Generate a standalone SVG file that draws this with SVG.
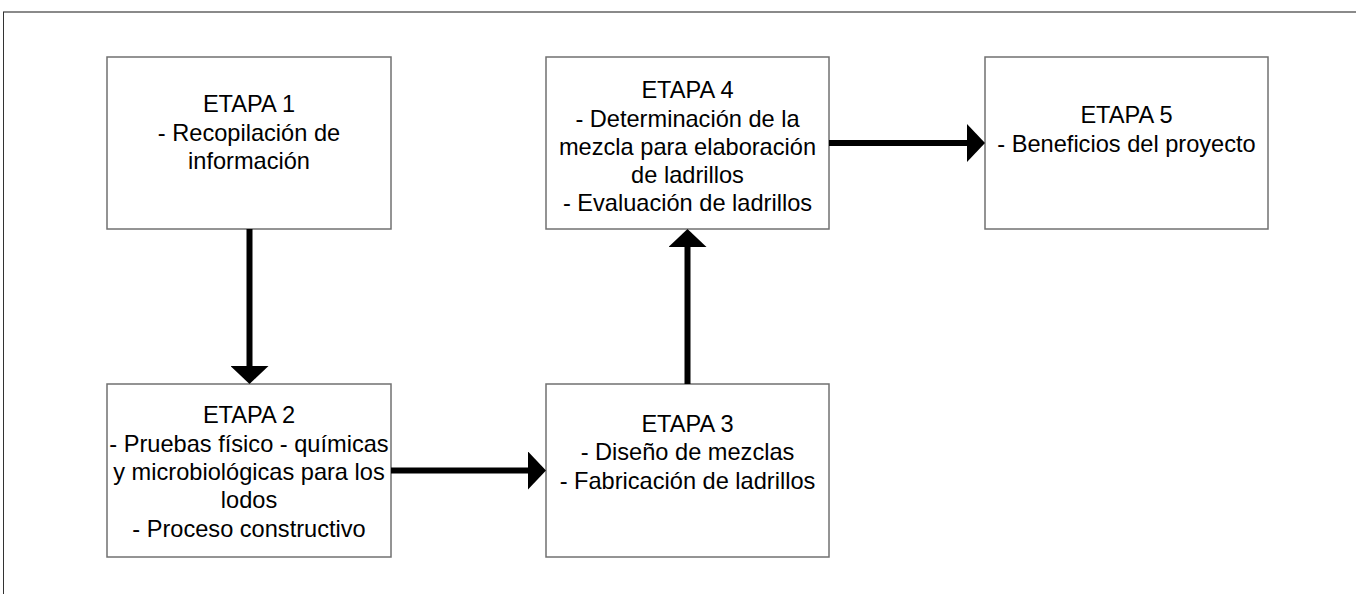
<svg xmlns="http://www.w3.org/2000/svg" width="1356" height="594" viewBox="0 0 1356 594">
<style>
.box{fill:#ffffff;stroke:#707070;stroke-width:1.5}
.t{font-family:"Liberation Sans",Arial,sans-serif;font-size:23.6px;fill:#000000;text-anchor:middle}
.conn{stroke:#000000;stroke-width:6;fill:none;marker-end:url(#ah)}
</style>
<defs>
<marker id="ah" markerUnits="userSpaceOnUse" markerWidth="18" markerHeight="38" refX="2" refY="19" orient="auto" viewBox="0 0 18 38">
<path d="M0,0 L18,19 L0,38 Z" fill="#000000"/>
</marker>
</defs>
<rect width="1356" height="594" fill="#ffffff"/>
<g id="frame">
<line x1="3" y1="12" x2="1356" y2="12" stroke="#8a8a8a" stroke-width="2"/>
<line x1="3.5" y1="12" x2="3.5" y2="594" stroke="#333333" stroke-width="1"/>
</g>
<g id="etapa1">
<rect class="box" x="107" y="57" width="284" height="172"/>
<text class="t" x="249" y="112">ETAPA 1</text>
<text class="t" x="249" y="140.5">- Recopilación de</text>
<text class="t" x="249" y="169">información</text>
</g>
<g id="etapa2">
<rect class="box" x="107" y="384" width="284" height="173"/>
<text class="t" x="249" y="423">ETAPA 2</text>
<text class="t" x="249" y="452">- Pruebas físico - químicas</text>
<text class="t" x="249" y="480">y microbiológicas para los</text>
<text class="t" x="249" y="508">lodos</text>
<text class="t" x="249" y="537">- Proceso constructivo</text>
</g>
<g id="etapa3">
<rect class="box" x="546" y="384" width="283" height="173"/>
<text class="t" x="687.5" y="432">ETAPA 3</text>
<text class="t" x="687.5" y="460">- Diseño de mezclas</text>
<text class="t" x="687.5" y="489">- Fabricación de ladrillos</text>
</g>
<g id="etapa4">
<rect class="box" x="546" y="57" width="283" height="172"/>
<text class="t" x="687.5" y="98">ETAPA 4</text>
<text class="t" x="687.5" y="127">- Determinación de la</text>
<text class="t" x="687.5" y="155">mezcla para elaboración</text>
<text class="t" x="687.5" y="183">de ladrillos</text>
<text class="t" x="687.5" y="211">- Evaluación de ladrillos</text>
</g>
<g id="etapa5">
<rect class="box" x="985" y="57" width="283" height="172"/>
<text class="t" x="1126.5" y="123">ETAPA 5</text>
<text class="t" x="1126.5" y="152">- Beneficios del proyecto</text>
</g>
<g id="connectors">
<line class="conn" x1="249.5" y1="229" x2="249.5" y2="368"/>
<line class="conn" x1="391" y1="470.5" x2="530" y2="470.5"/>
<line class="conn" x1="687.5" y1="384" x2="687.5" y2="245"/>
<line class="conn" x1="829" y1="143" x2="969" y2="143"/>
</g>
</svg>
